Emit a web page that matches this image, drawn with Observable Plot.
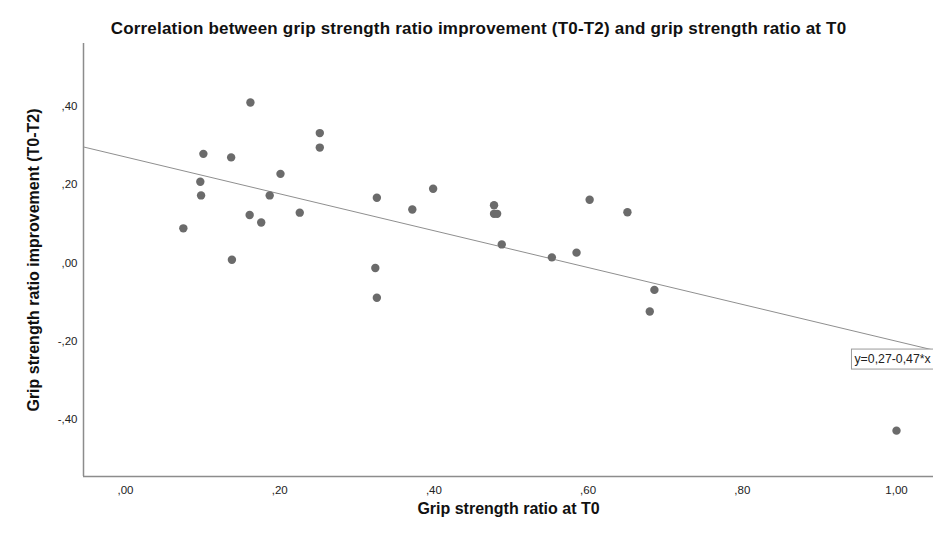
<!DOCTYPE html>
<html>
<head>
<meta charset="utf-8">
<script src="https://cdn.jsdelivr.net/npm/d3@7"></script>
<script src="https://cdn.jsdelivr.net/npm/@observablehq/plot@0.6"></script>
<style>
  html, body { margin: 0; padding: 0; background: #fff; }
  #chart { width: 933px; height: 533px; overflow: hidden; }
</style>
</head>
<body>
<div id="chart"></div>
<script>
// ---- data ----
const ratioT0 = [0.162, 0.101, 0.137, 0.252, 0.252, 0.201, 0.097, 0.098, 0.187, 0.161,
                 0.176, 0.226, 0.075, 0.138, 0.326, 0.324, 0.326, 0.372, 0.399, 0.478,
                 0.478, 0.482, 0.488, 0.602, 0.651, 0.553, 0.585, 0.686, 0.680, 1.000];
const improvement = [0.409, 0.278, 0.269, 0.331, 0.294, 0.227, 0.207, 0.172, 0.172, 0.122,
                     0.103, 0.128, 0.088, 0.008, 0.166, -0.013, -0.089, 0.136, 0.189, 0.147,
                     0.125, 0.125, 0.047, 0.161, 0.129, 0.014, 0.026, -0.069, -0.124, -0.428];
const xTicks = [0, 0.2, 0.4, 0.6, 0.8, 1.0];
const yTicks = [-0.4, -0.2, 0, 0.2, 0.4];
const fitIntercept = 0.27;
const fitSlope = -0.47;
const fitLabel = "y=0,27-0,47*x";
const titleText = "Correlation between grip strength ratio improvement (T0-T2) and grip strength ratio at T0";
const xLabel = "Grip strength ratio at T0";
const yLabel = "Grip strength ratio improvement (T0-T2)";

// ---- derived ----
const points = ratioT0.map((x, i) => ({x, y: improvement[i]}));
const xDomain = [-0.0545, 1.048];
const yDomain = [-0.545, 0.5595];
const fitLine = xDomain.map(x => ({x, y: fitIntercept + fitSlope * x}));
const labelX = 0.9455;
const labelY = -0.2456;

const fmt = d => {
  const s = Math.abs(d).toFixed(2).replace(".", ",");
  return (d < -1e-9 ? "-" : "") + (s.startsWith("0,") ? s.slice(1) : s);
};

const font = "Arial, 'Liberation Sans', sans-serif";

const chart = Plot.plot({
  width: 933,
  height: 533,
  marginLeft: 83,
  marginRight: 0,
  marginTop: 43,
  marginBottom: 57,
  style: {fontFamily: font, background: "#fff", color: "#222"},
  x: {domain: xDomain},
  y: {domain: yDomain},
  marks: [
    Plot.axisX(xTicks, {tickSize: 0, tickPadding: 9, tickFormat: fmt, fontSize: 11.5, label: null, fill: "#222"}),
    Plot.axisY(yTicks, {tickSize: 0, tickPadding: 6, tickFormat: fmt, fontSize: 11.5, label: null, fill: "#222"}),
    Plot.ruleX([xDomain[0]], {stroke: "#8c8c8c", strokeWidth: 1.5}),
    Plot.ruleY([yDomain[0]], {stroke: "#8c8c8c", strokeWidth: 1.5}),
    Plot.line(fitLine, {x: "x", y: "y", stroke: "#8f8f8f", strokeWidth: 1}),
    Plot.dot(points, {x: "x", y: "y", r: 4.2, fill: "#6b6b6b", stroke: "none"}),
    Plot.text([fitLabel], {x: labelX, y: labelY, text: d => d, textAnchor: "start", fontSize: 12.3, fill: "#222", className: "fitlabel"}),
    Plot.text([titleText], {frameAnchor: "top", dx: -30, dy: -22, text: d => d, fontSize: 17, fontWeight: "bold", fill: "#111", className: "charttitle"}),
    Plot.text([xLabel], {frameAnchor: "bottom", dy: 37, text: d => d, fontSize: 16, fontWeight: "bold", fill: "#111"}),
    Plot.text([yLabel], {frameAnchor: "left", dx: -50, rotate: -90, textAnchor: "middle", text: d => d, fontSize: 16, fontWeight: "bold", fill: "#111"})
  ]
});

document.getElementById("chart").appendChild(chart);
d3.select(chart).selectAll("g.charttitle text").style("letter-spacing", "0.2px");

// box around the regression equation label
const lab = d3.select(chart).select("g.fitlabel text");
if (!lab.empty()) {
  const node = lab.node();
  const bb = node.getBBox();
  const r = d3.select(node.parentNode).insert("rect", "text")
    .attr("x", bb.x - 3).attr("y", bb.y - 3)
    .attr("width", bb.width + 8).attr("height", bb.height + 6)
    .attr("fill", "#fff").attr("stroke", "#9a9a9a").attr("stroke-width", 1);
  const tf = node.getAttribute("transform");
  if (tf) r.attr("transform", tf);
}
</script>
</body>
</html>
